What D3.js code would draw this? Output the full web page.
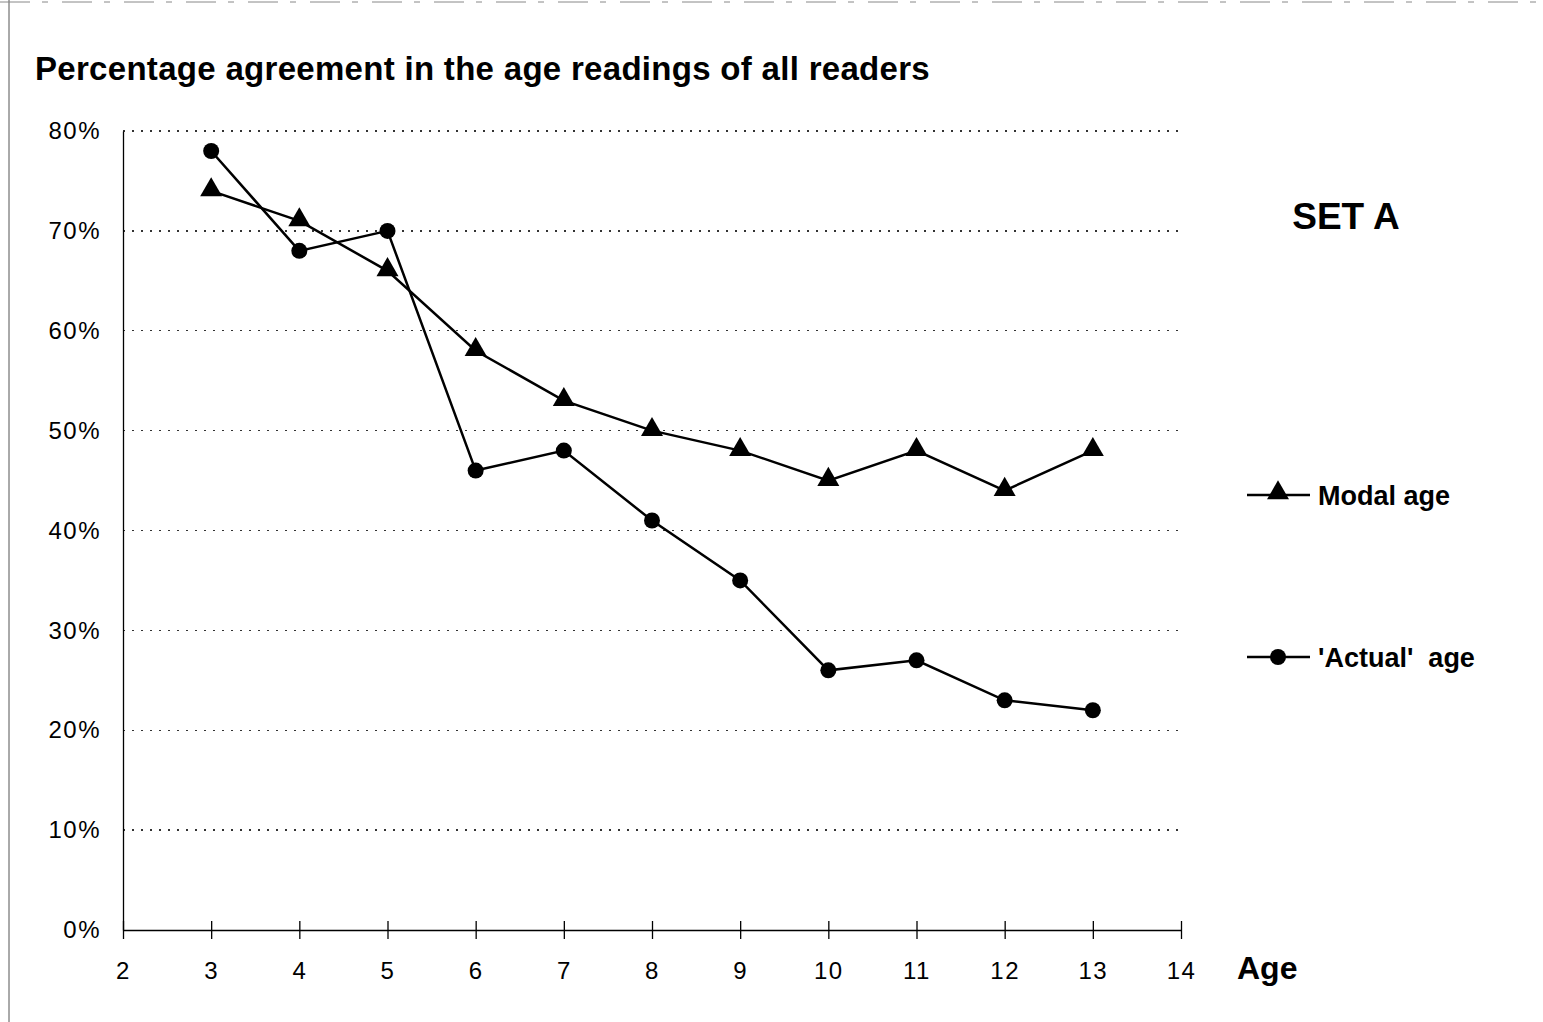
<!DOCTYPE html>
<html>
<meta charset="utf-8">
<head>
<style>
body { margin: 0; background: #fff; }
svg text { font-family: "Liberation Sans", Arial, sans-serif; fill: #000; }
.grid line { stroke: #333; stroke-width: 1.3; stroke-dasharray: 2,7; shape-rendering: crispEdges; }
.axis text { font-size: 24px; letter-spacing: 1.5px; }
.axis path.domain { stroke: #000; stroke-width: 1.3; }
.axis line { stroke: #000; stroke-width: 1.3; }
</style>
</head>
<body>
<svg width="1543" height="1022"></svg>
<script src="https://d3js.org/d3.v7.min.js"></script>
<script>
// values
var ages = [3, 4, 5, 6, 7, 8, 9, 10, 11, 12, 13];
var modalAge = [74, 71, 66, 58, 53, 50, 48, 45, 48, 44, 48];
var actualAge = [78, 68, 70, 46, 48, 41, 35, 26, 27, 23, 22];
var yTicks = [0, 10, 20, 30, 40, 50, 60, 70, 80];
var xTicks = [2, 3, 4, 5, 6, 7, 8, 9, 10, 11, 12, 13, 14];
var seriesNames = ["Modal age", "'Actual'\u00a0 age"];

var svg = d3.select("svg");

var x = d3.scaleLinear().domain([2, 14]).range([123, 1181]),
    y = d3.scaleLinear().domain([0, 80]).range([930, 131]);

// scan edges
svg.append("line")
  .attr("x1", 9).attr("x2", 9).attr("y1", 0).attr("y2", 1022)
  .attr("stroke", "#555").attr("stroke-width", 1);
svg.append("line")
  .attr("x1", 0).attr("x2", 1543).attr("y1", 2).attr("y2", 2)
  .attr("stroke", "#888").attr("stroke-width", 1)
  .attr("stroke-dasharray", "30,12,6,14");

svg.append("text")
  .attr("x", 35).attr("y", 80)
  .style("font-size", "33px").style("font-weight", "bold")
  .style("letter-spacing", "0.3px")
  .text("Percentage agreement in the age readings of all readers");

// dotted gridlines
svg.append("g").attr("class", "grid")
  .selectAll("line")
  .data(yTicks.filter(function(d) { return d > 0; }))
  .enter().append("line")
  .attr("x1", x(2)).attr("x2", x(14))
  .attr("y1", function(d) { return y(d); })
  .attr("y2", function(d) { return y(d); });

var xAxis = d3.axisBottom(x)
  .tickValues(xTicks)
  .tickSize(10)
  .tickSizeOuter(0)
  .tickPadding(22)
  .tickFormat(d3.format("d"));

var gx = svg.append("g")
  .attr("class", "axis")
  .attr("transform", "translate(0," + y(0) + ")")
  .call(xAxis);
// ticks cross the axis line
gx.selectAll(".tick line").attr("y1", -9).attr("y2", 9);

var yAxis = d3.axisLeft(y)
  .tickValues(yTicks)
  .tickSize(0)
  .tickPadding(22)
  .tickFormat(function(d) { return d + "%"; });

svg.append("g")
  .attr("class", "axis")
  .attr("transform", "translate(" + x(2) + ",0)")
  .call(yAxis);

svg.append("text")
  .attr("x", 1237).attr("y", 979)
  .style("font-size", "32px").style("font-weight", "bold")
  .text("Age");

svg.append("text")
  .attr("x", 1346).attr("y", 229)
  .attr("text-anchor", "middle")
  .style("font-size", "37px").style("font-weight", "bold")
  .text("SET A");

var line = d3.line()
  .x(function(d) { return x(d[0]); })
  .y(function(d) { return y(d[1]); });

var tri = d3.symbol().type(d3.symbolTriangle).size(210);

function drawSeries(vals, marker) {
  var pts = ages.map(function(a, i) { return [a, vals[i]]; });
  var g = svg.append("g");
  g.append("path")
    .attr("d", line(pts))
    .attr("fill", "none")
    .attr("stroke", "#000")
    .attr("stroke-width", 2.5);
  if (marker === "tri") {
    g.selectAll("path.m").data(pts).enter().append("path")
      .attr("class", "m")
      .attr("d", tri)
      .attr("transform", function(d) { return "translate(" + x(d[0]) + "," + (y(d[1]) - 1) + ")"; })
      .attr("fill", "#000");
  } else {
    g.selectAll("circle").data(pts).enter().append("circle")
      .attr("cx", function(d) { return x(d[0]); })
      .attr("cy", function(d) { return y(d[1]); })
      .attr("r", 8)
      .attr("fill", "#000");
  }
}

drawSeries(modalAge, "tri");
drawSeries(actualAge, "circle");

// legend
var legendY = [495, 657];
var legend = svg.append("g");
seriesNames.forEach(function(name, i) {
  var ly = legendY[i];
  legend.append("line")
    .attr("x1", 1247).attr("x2", 1310)
    .attr("y1", ly).attr("y2", ly)
    .attr("stroke", "#000").attr("stroke-width", 2.5);
  if (i === 0) {
    legend.append("path")
      .attr("d", tri)
      .attr("transform", "translate(1278," + (ly - 2) + ")")
      .attr("fill", "#000");
  } else {
    legend.append("circle")
      .attr("cx", 1278).attr("cy", ly).attr("r", 8)
      .attr("fill", "#000");
  }
  legend.append("text")
    .attr("x", 1318).attr("y", ly + 10)
    .style("font-size", "27px").style("font-weight", "bold")
    .text(name);
});
</script>
</body>
</html>
